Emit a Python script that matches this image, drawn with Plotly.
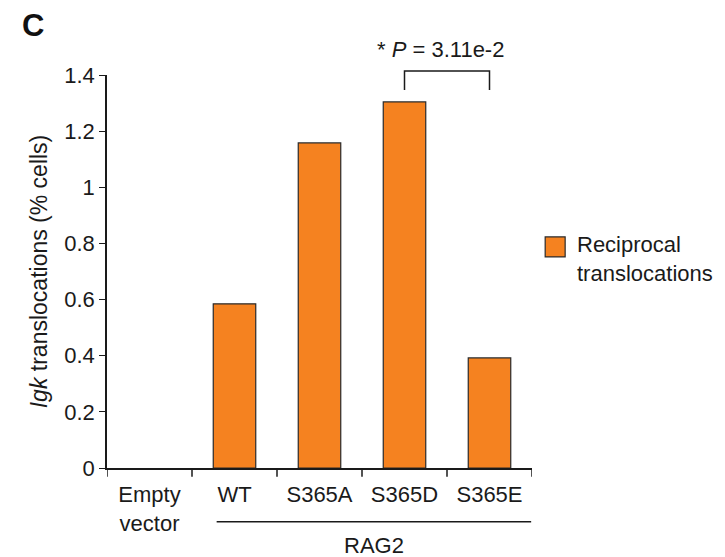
import plotly.graph_objects as go

categories = ["Empty<br>vector", "WT", "S365A", "S365D", "S365E"]
values = [0.0, 0.585, 1.158, 1.304, 0.392]
yticks = [0, 0.2, 0.4, 0.6, 0.8, 1.0, 1.2, 1.4]
yticklabels = ["0", "0.2", "0.4", "0.6", "0.8", "1", "1.2", "1.4"]
series_name = "Reciprocal<br>translocations"
group_label = "RAG2"
p_label = "* <i>P</i> = 3.11e-2"

FONT = "Liberation Sans, Arial, sans-serif"
ORANGE = "#F58220"
INK = "#1a1a1a"

fig = go.Figure()
fig.add_trace(go.Bar(
    x=list(range(len(categories))), y=values, width=0.5,
    marker=dict(color=ORANGE,
                line=dict(color="#2a2a2a", width=[0 if v == 0 else 1.2 for v in values])),
    name=series_name, showlegend=False,
))

fig.update_layout(
    width=725, height=557,
    margin=dict(l=99, r=201, t=67, b=97),
    plot_bgcolor="white", paper_bgcolor="white",
    font=dict(family=FONT, size=22, color=INK),
    showlegend=False,
    xaxis=dict(
        tickmode="array", tickvals=list(range(len(categories))), ticktext=categories,
        range=[-0.5, 4.5], showline=True, linecolor=INK, linewidth=1.5,
        ticks="", showgrid=False, zeroline=False, ticklabelstandoff=6,
        tickfont=dict(size=22),
    ),
    yaxis=dict(
        range=[0, 1.4], tickvals=yticks, ticktext=yticklabels,
        showline=True, linecolor=INK, linewidth=1.5,
        ticks="outside", ticklen=6, tickwidth=1.3, tickcolor=INK,
        showgrid=False, zeroline=False,
        title=dict(text="<i>Igk</i> translocations (% cells)", font=dict(size=23), standoff=10),
        tickfont=dict(size=22),
    ),
)

# x-axis boundary ticks
for b in [-0.5, 0.5, 1.5, 2.5, 3.5, 4.5]:
    fig.add_shape(type="line", xref="x", yref="paper", x0=b, x1=b, y0=0, y1=-0.022,
                  line=dict(color=INK, width=1.5))

# RAG2 grouping line and label
fig.add_shape(type="line", xref="x", yref="paper", x0=0.79, x1=4.49, y0=-0.137, y1=-0.137,
              line=dict(color=INK, width=1.5))
fig.add_annotation(x=2.64, y=-0.198, xref="x", yref="paper", text=group_label, showarrow=False,
                   font=dict(size=22), yanchor="middle")

# significance bracket
fig.add_shape(type="path", xref="x", yref="paper",
              path="M 3,0.962 L 3,1.010 L 4,1.010 L 4,0.962",
              line=dict(color=INK, width=1.5))
fig.add_annotation(x=3.42, y=1.064, xref="x", yref="paper", text=p_label,
                   showarrow=False, font=dict(size=22), yanchor="middle")

# legend (manual, to match the large swatch)
fig.add_shape(type="rect", xref="paper", yref="paper", x0=1.031, x1=1.078, y0=0.537, y1=0.588,
              fillcolor=ORANGE, line=dict(color="#2a2a2a", width=1.2))
fig.add_annotation(x=1.101, y=0.533, xref="paper", yref="paper", text=series_name,
                   showarrow=False, xanchor="left", yanchor="middle", align="left",
                   font=dict(size=22))

# panel letter
fig.add_annotation(x=-0.205, y=1.127, xref="paper", yref="paper", text="<b>C</b>",
                   showarrow=False, xanchor="left", yanchor="middle",
                   font=dict(size=31, color="#111"))

fig.write_html("out.html")
